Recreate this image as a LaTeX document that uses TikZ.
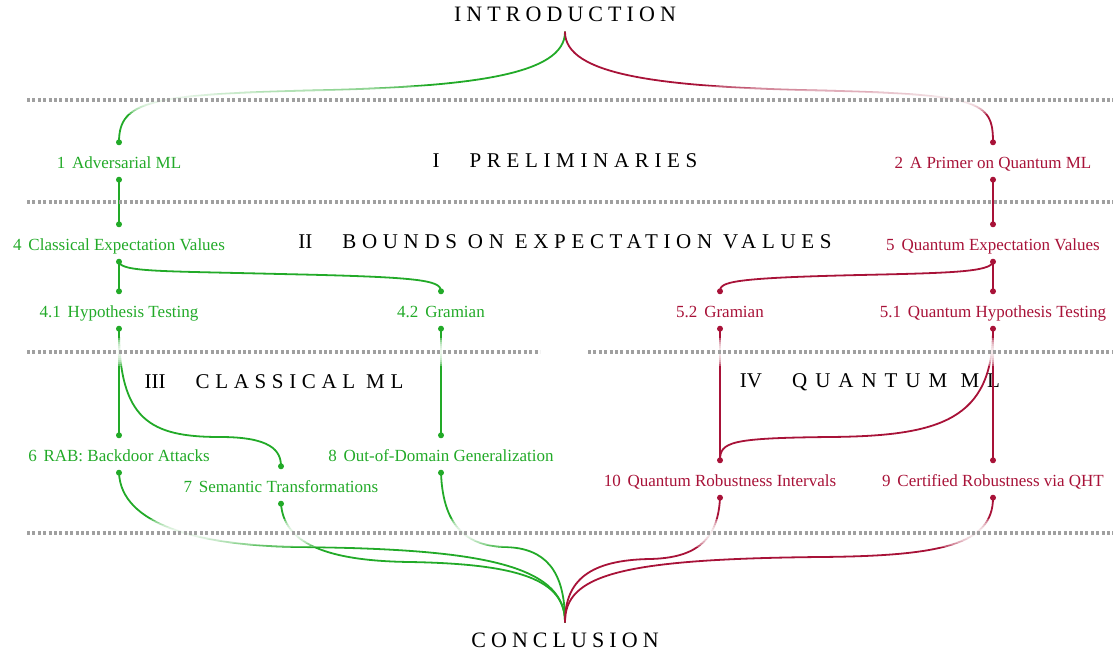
\documentclass[tikz,border=0pt]{standalone}
\usepackage{fontspec}
\setmainfont{Liberation Serif}
\definecolor{cgreen}{RGB}{34,170,40}
\definecolor{cred}{RGB}{168,18,56}
\definecolor{rulegray}{RGB}{160,160,160}
\newcommand\spacedcaps[2][27]{{\addfontfeature{LetterSpace=#1}#2}}

\begin{document}
\begin{tikzpicture}[x=1pt,y=-1pt,
  chap/.style={font=\fontsize{17}{20}\selectfont, minimum height=37pt, inner xsep=0pt, inner ysep=0pt,
               text height=17pt, text depth=2pt},
  cl/.style={chap, text=cgreen},
  qu/.style={chap, text=cred},
  part/.style={font=\fontsize{21}{25}\selectfont, inner sep=0pt},
  endpart/.style={font=\fontsize{22}{26}\selectfont\addfontfeature{LetterSpace=23}, inner sep=0pt},
  link/.style={line width=1.8pt, line cap=round},
  gl/.style={link, draw=cgreen},
  rl/.style={link, draw=cred},
  rulerline/.style={draw=rulegray, line width=3.2pt, dash pattern=on 3pt off 2.4pt},
  band/.style={fill=white, fill opacity=0.3},
]
\useasboundingbox (0,0) rectangle (1116,655);

% front and back matter
\node[endpart] (intro) at (565,14) {INTRODUCTION};
\node[endpart] (concl) at (565,640) {CONCLUSION};
\coordinate (introfoot) at (565,32);
\coordinate (conclhead) at (565,622);

% part titles
\node[part] (p1) at (565,161) {I\hspace{30pt}\spacedcaps{PRELIMINARIES}};
\node[part] (p2) at (565,242) {II\hspace{30pt}\spacedcaps{BOUNDS ON EXPECTATION VALUES}};
\node[part] (p3) at (274,382) {III\hspace{30pt}\spacedcaps{CLASSICAL ML}};
\node[part] (p4) at (870,382) {IV\hspace{30pt}\spacedcaps[38]{QUANTUM ML}};

% classical chapters
\node[cl] (c1)  at (119,161) {1\hspace{0.4em}Adversarial ML};
\node[cl] (c4)  at (119,243) {4\hspace{0.4em}Classical Expectation Values};
\node[cl] (c41) at (119,310) {4.1\hspace{0.4em}Hypothesis Testing};
\node[cl] (c42) at (441,310) {4.2\hspace{0.4em}Gramian};
\node[cl] (c6)  at (119,454) {6\hspace{0.4em}RAB: Backdoor Attacks};
\node[cl] (c7)  at (281,485) {7\hspace{0.4em}Semantic Transformations};
\node[cl] (c8)  at (441,454) {8\hspace{0.4em}Out-of-Domain Generalization};

% quantum chapters
\node[qu] (q2)  at (993,161) {2\hspace{0.4em}A Primer on Quantum ML};
\node[qu] (q5)  at (993,243) {5\hspace{0.4em}Quantum Expectation Values};
\node[qu] (q52) at (720,310) {5.2\hspace{0.4em}Gramian};
\node[qu] (q51) at (993,310) {5.1\hspace{0.4em}Quantum Hypothesis Testing};
\node[qu] (q10) at (720,479) {10\hspace{0.4em}Quantum Robustness Intervals};
\node[qu] (q9)  at (993,479) {9\hspace{0.4em}Certified Robustness via QHT};

% connectors, classical track
\draw[gl] (introfoot) .. controls (565,75) and (470,86) .. (330,90)
                      .. controls (150,94) and (119,100) .. (c1.north);
\draw[gl] (c1.south) -- (c4.north);
\draw[gl] (c4.south) -- (c41.north);
\draw[gl] (c4.south) .. controls (121,272) and (160,271) .. (280,274)
                     .. controls (420,277) and (441,280) .. (c42.north);
\draw[gl] (c41.south) -- (c6.north);
\draw[gl] (c41.south) .. controls (119,420) and (150,437) .. (220,437)
                      .. controls (270,437) and (281,450) .. (c7.north);
\draw[gl] (c42.south) -- (c8.north);
\draw[gl] (c6.south) .. controls (121,525) and (200,546) .. (300,547)
                     .. controls (470,549) and (565,562) .. (conclhead);
\draw[gl] (c7.south) .. controls (284,545) and (330,561) .. (410,562)
                     .. controls (520,564) and (565,580) .. (conclhead);
\draw[gl] (c8.south) .. controls (443,530) and (470,546) .. (505,547)
                     .. controls (545,548) and (565,570) .. (conclhead);

% connectors, quantum track
\draw[rl] (introfoot) .. controls (565,75) and (660,86) .. (800,90)
                      .. controls (980,94) and (993,100) .. (q2.north);
\draw[rl] (q2.south) -- (q5.north);
\draw[rl] (q5.south) -- (q51.north);
\draw[rl] (q5.south) .. controls (991,272) and (950,273) .. (860,275)
                     .. controls (730,278) and (720,282) .. (q52.north);
\draw[rl] (q52.south) -- (q10.north);
\draw[rl] (q51.south) -- (q9.north);
\draw[rl] (q51.south) .. controls (993,420) and (940,436) .. (830,437)
                      .. controls (730,438) and (720,442) .. (q10.north);
\draw[rl] (q10.south) .. controls (718,545) and (690,558) .. (650,559)
                      .. controls (590,560) and (565,580) .. (conclhead);
\draw[rl] (q9.south) .. controls (993,545) and (940,556) .. (820,557)
                     .. controls (620,559) and (565,575) .. (conclhead);

% soften connectors where they cross a part rule (stacked white veils)
\foreach \ry in {100,352,533}
  \foreach \h in {2,4,...,14}
    \fill[band] (0,\ry-\h) rectangle (1116,\ry+\h);

% part rules
\draw[rulerline] (27,100) -- (1113,100);
\draw[rulerline] (27,202) -- (1113,202);
\draw[rulerline] (27,352) -- (540,352);
\draw[rulerline] (588,352) -- (1113,352);
\draw[rulerline] (27,533) -- (1113,533);

% connector end dots
\foreach \n in {c1,c4,c41,c42,c6,c7,c8}
  \fill[cgreen] (\n.north) circle (3pt) (\n.south) circle (3pt);
\foreach \n in {q2,q5,q52,q51,q10,q9}
  \fill[cred] (\n.north) circle (3pt) (\n.south) circle (3pt);
\end{tikzpicture}
\end{document}
